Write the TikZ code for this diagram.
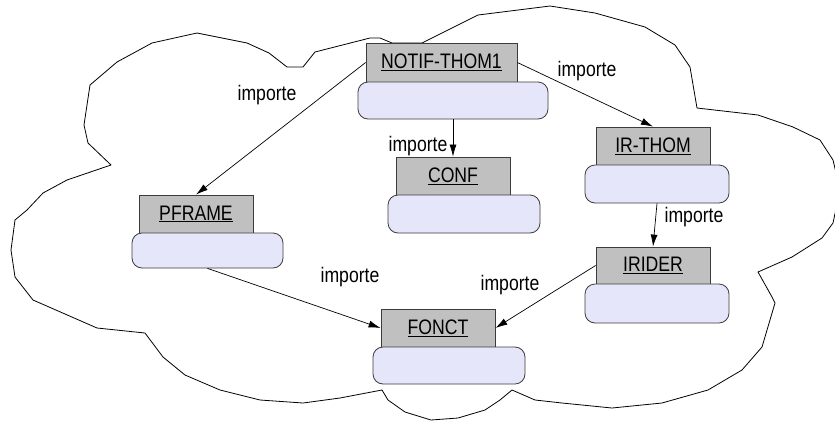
\documentclass[tikz,border=0pt]{standalone}
\usepackage{fontspec}
\usepackage{graphicx}
\setmainfont{Liberation Sans}
\usetikzlibrary{arrows.meta}
\definecolor{boxgray}{RGB}{192,192,192}
\definecolor{lav}{RGB}{230,230,250}
\definecolor{edge}{RGB}{60,60,60}
\newcommand{\mytxt}[1]{\fontsize{21}{23}\selectfont\scalebox{0.84}[1]{#1}}
\newcommand{\myname}[1]{\fontsize{21}{23}\selectfont\scalebox{0.84}[1]{\underline{#1}}}
\tikzset{
  graybox/.style={draw=edge, fill=boxgray, line width=0.8pt, inner sep=0pt, minimum width=114pt, minimum height=38pt},
  lavbox/.style={draw=edge, fill=lav, line width=0.8pt, rounded corners=10pt, inner sep=0pt, minimum width=144pt, minimum height=38pt},
  conn/.style={draw=black, line width=0.7pt, -{Latex[length=12pt,width=7pt]}},
  lbl/.style={inner sep=0pt},
  cloudline/.style={draw=black, line width=0.8pt, line join=round}
}
\begin{document}
\begin{tikzpicture}[x=1pt,y=-1pt]
\useasboundingbox (0,0) rectangle (835,421);
\fill[white] (0,0) rectangle (835,421);
% cloud
\draw[cloudline] (392,43) -- (380,38) -- (370,38) -- (315,52) -- (303,67) -- (287,67) -- (269,53) -- (247,43) -- (197,33) -- (152,43) -- (117,62) -- (90,85) -- (84,125) -- (88,143) -- (111,165) -- (67,180) -- (43,193) -- (27,210) -- (15,220) -- (11,250) -- (15,277) -- (33,300) -- (97,328) -- (145,333) -- (163,357) -- (185,375) -- (220,390) -- (260,400) -- (303,403) -- (340,398) -- (382,390) -- (388,400) -- (405,412) -- (431,420) -- (458,418) -- (485,410) -- (500,400) -- (512,390) -- (535,400) -- (562,403) -- (612,408) -- (662,403) -- (708,390) -- (742,370) -- (762,347) -- (775,303) -- (772,297) -- (758,272) -- (792,257) -- (822,238) -- (833,223) -- (840,190) -- (833,160) -- (820,140) -- (793,127) -- (758,115) -- (697,108) -- (690,67) -- (675,45) -- (645,27) -- (595,13) -- (550,6) -- (478,15) -- (422,43) -- cycle;

% NOTIF-THOM1
\node[graybox, minimum width=151pt, minimum height=39pt] (notif) at (441.5,62.5) {\myname{NOTIF-THOM1}};
\node[lavbox, minimum width=190pt, minimum height=37pt] (notifL) at (453,100.5) {};
% CONF
\node[graybox] (conf) at (453,176) {\myname{CONF}};
\node[lavbox, minimum width=152pt] (confL) at (464,214) {};
% PFRAME
\node[graybox] (pframe) at (196,214) {\myname{PFRAME}};
\node[lavbox, minimum width=151pt, minimum height=35pt] (pframeL) at (207.5,250.5) {};
% IR-THOM
\node[graybox] (irthom) at (653,146) {\myname{IR-THOM}};
\node[lavbox] (irthomL) at (657,184) {};
% IRIDER
\node[graybox, minimum height=37pt] (irider) at (653,265.5) {\myname{IRIDER}};
\node[lavbox, minimum height=39pt] (iriderL) at (657,303.5) {};
% FONCT
\node[graybox] (fonct) at (438,328) {\myname{FONCT}};
\node[lavbox, minimum width=152pt, minimum height=37pt] (fonctL) at (449,365.5) {};

% connectors
\draw[conn] (notif.west) -- (pframe.north);
\draw[conn] (notifL.south) -- (conf.north);
\draw[conn] (notif.east) -- (irthom.north);
\draw[conn] (irthomL.south) -- (irider.north);
\draw[conn] (irider.west) -- (fonct.east);
\draw[conn] (pframeL.south) -- (fonct.west);

% labels
\node[lbl] (l1) at (267,95) {\mytxt{importe}};
\node[lbl] (l2) at (418,146) {\mytxt{importe}};
\node[lbl] (l3) at (587,71) {\mytxt{importe}};
\node[lbl] (l4) at (694,217) {\mytxt{importe}};
\node[lbl] (l5) at (510,285) {\mytxt{importe}};
\node[lbl] (l6) at (350,277) {\mytxt{importe}};
\end{tikzpicture}
\end{document}
